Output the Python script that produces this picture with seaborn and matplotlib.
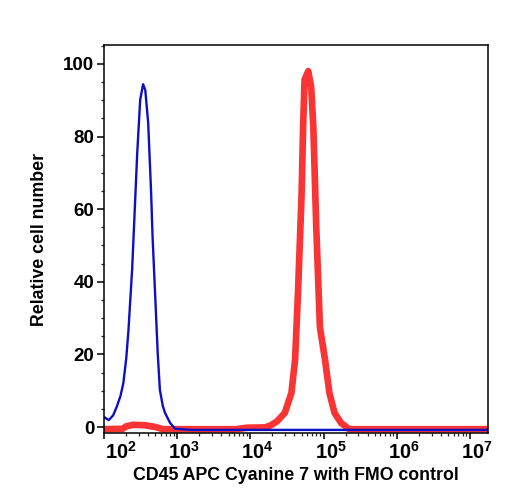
import numpy as np
import pandas as pd
import matplotlib
matplotlib.use("Agg")
import matplotlib.pyplot as plt
import matplotlib.ticker as mticker
import matplotlib.transforms as mtransforms
import seaborn as sns

# ---- data (log10 fluorescence, relative cell number) ----
blue_logx = [1.99, 2.06, 2.12, 2.17, 2.22, 2.26, 2.30, 2.33, 2.38, 2.42, 2.45, 2.49,
             2.53, 2.56, 2.60, 2.64, 2.66, 2.70, 2.73, 2.76, 2.80, 2.83, 2.90,
             2.97, 3.20, 7.25]
blue_y = [2.8, 1.9, 3.2, 5.6, 8.5, 12.1, 19.0, 26.7, 43.3, 61.7, 75.5, 90.0,
          94.4, 92.8, 83.7, 64.5, 52.3, 34.2, 20.4, 10.2, 5.8, 3.9, 1.1,
          -0.5, -0.8, -0.8]

red_logx = [1.99, 2.25, 2.30, 2.40, 2.55, 2.70, 2.80, 3.80, 3.95, 4.20, 4.27,
            4.36, 4.47, 4.56, 4.61, 4.65, 4.70, 4.72, 4.74, 4.79, 4.83, 4.86,
            4.90, 4.95, 5.02, 5.08, 5.15, 5.24, 5.35, 7.25]
red_y = [-0.6, -0.5, 0.2, 0.6, 0.5, 0.0, -0.6, -0.6, -0.2, -0.1, 0.4,
         1.5, 3.9, 9.4, 18.5, 36.9, 64.5, 82.6, 95.6, 98.0, 93.7, 82.6,
         55.0, 27.5, 18.5, 9.4, 3.9, 1.1, -0.6, -0.6]

x_label = "CD45 APC Cyanine 7 with FMO control"
y_label = "Relative cell number"
y_ticks = [0, 20, 40, 60, 80, 100]

sns.set_theme(style="ticks")
plt.rcParams["font.family"] = ["Liberation Sans", "DejaVu Sans"]
plt.rcParams["mathtext.fontset"] = "custom"
plt.rcParams["mathtext.rm"] = "Liberation Sans:bold"
plt.rcParams["mathtext.bf"] = "Liberation Sans:bold"
plt.rcParams["mathtext.it"] = "Liberation Sans:bold"
plt.rcParams["mathtext.default"] = "bf"

blue_df = pd.DataFrame({"x": np.power(10.0, blue_logx), "y": blue_y})
red_df = pd.DataFrame({"x": np.power(10.0, red_logx), "y": red_y})

fig = plt.figure(figsize=(5.08, 5.0), dpi=100)
ax = fig.add_axes([0.2047, 0.134, 0.7559, 0.776])

sns.lineplot(data=red_df, x="x", y="y", ax=ax, sort=False, estimator=None,
             color="#f83434", linewidth=4.8)
sns.lineplot(data=blue_df, x="x", y="y", ax=ax, sort=False, estimator=None,
             color="#0c10c4", linewidth=1.7)

ax.set_xscale("log")
ax.set_xlim(10 ** 1.995, 10 ** 7.25)
ax.set_ylim(-1.65, 105.2)

ax.set_yticks(y_ticks)
ax.yaxis.set_minor_locator(mticker.MultipleLocator(5))
ax.xaxis.set_major_locator(mticker.LogLocator(base=10, numticks=20))
ax.xaxis.set_minor_locator(mticker.LogLocator(base=10, subs=np.arange(2, 10), numticks=20))
ax.xaxis.set_minor_formatter(mticker.NullFormatter())
ax.xaxis.set_major_formatter(mticker.FuncFormatter(lambda v, p: r"$\mathbf{10^{%d}}$" % round(np.log10(v))))

for s in ax.spines.values():
    s.set_visible(True)
    s.set_linewidth(1.1)
    s.set_color("black")

ax.tick_params(axis="both", which="major", direction="out", width=1.1, color="black",
               labelcolor="black")
ax.tick_params(axis="y", which="major", length=5, pad=2, labelsize=13.5)
ax.tick_params(axis="y", which="minor", length=2.5, width=0.9)
ax.tick_params(axis="x", which="major", length=4, pad=2, labelsize=14.5)
ax.tick_params(axis="x", which="minor", length=2.2, width=0.9)
for lab in ax.get_yticklabels():
    lab.set_fontweight("bold")

ax.set_xlabel(x_label, fontsize=12.8, fontweight="bold", color="black", labelpad=3)
ax.set_ylabel(y_label, fontsize=12.8, fontweight="bold", color="black", labelpad=11)

fig.canvas.draw()
shift = mtransforms.ScaledTranslation(0.07, 0, fig.dpi_scale_trans)
for lab in ax.get_xticklabels():
    lab.set_transform(lab.get_transform() + shift)
    if lab.get_text().find("{2}") >= 0:
        lab.set_transform(lab.get_transform() + mtransforms.ScaledTranslation(0.1, 0, fig.dpi_scale_trans))

fig.savefig("out.png", dpi=100)
